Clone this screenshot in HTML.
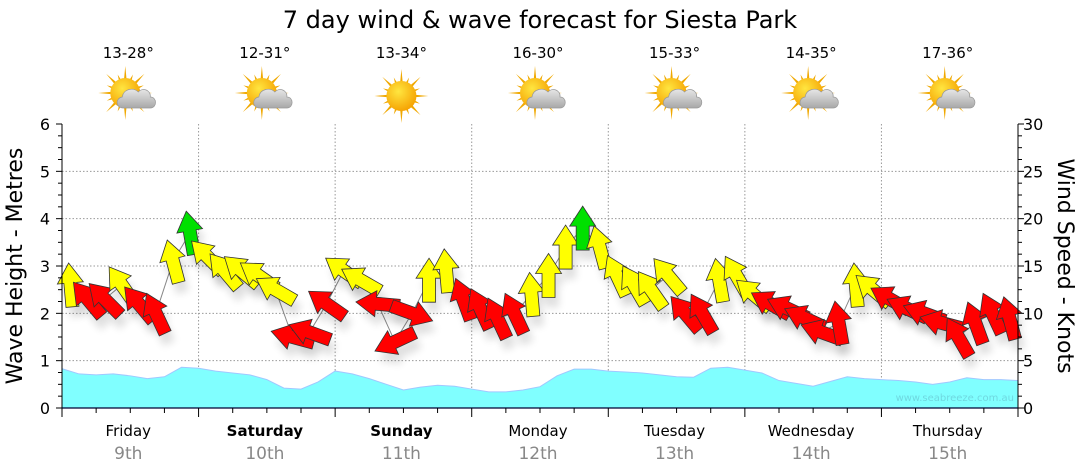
<!DOCTYPE html>
<html><head><meta charset="utf-8"><style>
html,body{margin:0;padding:0;background:#fff;width:1080px;height:475px;overflow:hidden}
svg{display:block;font-family:"DejaVu Sans","Liberation Sans",sans-serif}
</style></head><body>
<svg id="chart" width="1080" height="475" viewBox="0 0 1080 475">
<defs>
<radialGradient id="sunG" cx="0.4" cy="0.35" r="0.7"><stop offset="0" stop-color="#ffe640"/><stop offset="1" stop-color="#f5a000"/></radialGradient>
<linearGradient id="cloudG" x1="0" y1="0" x2="0" y2="1"><stop offset="0" stop-color="#e6e6e6"/><stop offset="1" stop-color="#a8a8a8"/></linearGradient>
<filter id="sh" x="-50%" y="-50%" width="200%" height="200%"><feGaussianBlur stdDeviation="4"/></filter>
</defs>
<text x="540" y="28" font-size="24" text-anchor="middle" fill="#000">7 day wind &amp; wave forecast for Siesta Park</text>
<g id="top"></g>
<g id="grid"></g>
<g id="wave"></g>
<g id="wind"></g>
<g id="axes"></g>
<text x="1014" y="401" font-size="10" text-anchor="end" fill="#6fd8e0">www.seabreeze.com.au</text>
<text transform="translate(22,266) rotate(-90)" font-size="22" text-anchor="middle">Wave Height - Metres</text>
<text transform="translate(1058,266) rotate(90)" font-size="22" text-anchor="middle">Wind Speed - Knots</text>
</svg>
<script>
const days=["Friday","Saturday","Sunday","Monday","Tuesday","Wednesday","Thursday"];
const dates=["9th","10th","11th","12th","13th","14th","15th"];
const boldDays=[false,true,true,false,false,false,false];
const temps=["13-28°","12-31°","13-34°","16-30°","15-33°","14-35°","17-36°"];
const cloudy=[true,true,false,true,true,true,true];
const waveTicks=[0,1,2,3,4,5,6];
const windTicks=[0,5,10,15,20,25,30];
// wave height every 3 hours, 0..168h
const waveHeights=[0.83,0.72,0.70,0.72,0.68,0.62,0.66,0.86,0.84,0.78,0.74,0.70,0.60,0.42,0.40,0.55,0.78,0.72,0.62,0.50,0.38,0.44,0.48,0.46,0.40,0.34,0.34,0.38,0.45,0.68,0.82,0.82,0.78,0.76,0.74,0.70,0.66,0.65,0.84,0.86,0.80,0.74,0.58,0.52,0.46,0.56,0.66,0.62,0.60,0.58,0.55,0.50,0.55,0.64,0.60,0.60,0.58];
// wind speed (knots) every 3 hours starting 1.5h
const windSpeeds=[13,11.5,11.5,13,11,10,15.5,18.5,16,14.5,14.5,14,12.5,7.5,8,11,14.5,13.5,11,7,10,13.5,14.5,11.5,10.5,9.5,10,12,14,17,19,17,14,13,12.5,14,10,10,13.5,14,12,11,10.5,9.5,8,9,13,12.5,11.5,10.5,10,9,7.5,9,10,9.5];
// direction arrow points (degrees clockwise from up)
const windDirs=[-5,-40,-45,-35,-40,-25,-15,-10,-45,-40,-50,-55,-60,-75,-70,-55,-55,-60,-85,-115,110,0,-5,-20,-25,-25,-25,-5,0,0,0,-15,-25,-30,-35,-40,-40,-30,-10,-30,-50,-60,-65,-65,-70,-10,-5,-50,-60,-65,-70,-75,-30,-20,-25,-15];
const X0=62,X1=1018,Y0=408,Y1=124,HOURS=168;
const xs=h=>X0+(X1-X0)*h/HOURS;
const ym=m=>Y0-(Y0-Y1)*m/6;
const yk=k=>Y0-(Y0-Y1)*k/30;
const NS="http://www.w3.org/2000/svg";
function mk(t,a,p){const e=document.createElementNS(NS,t);for(const k in a)e.setAttribute(k,a[k]);p.appendChild(e);return e;}
const g=id=>document.getElementById(id);
const dayW=(X1-X0)/7;
days.forEach((d,i)=>{
  const cx=X0+dayW*(i+0.5)-2;
  const t=mk('text',{x:cx,y:58,'font-size':15,'text-anchor':'middle'},g('top'));t.textContent=temps[i];
  
  
  const ic=mk('g',{transform:`translate(${cx},${cloudy[i]?93:96})`},g('top'));
  
  
  const sx=cloudy[i]?-3:0;
  for(let r=0;r<16;r++){const a=r*Math.PI/8;const L=r%2?20:27;
    mk('polygon',{points:`${sx+Math.cos(a-0.12)*12},${Math.sin(a-0.12)*12} ${sx+Math.cos(a)*L},${Math.sin(a)*L} ${sx+Math.cos(a+0.12)*12},${Math.sin(a+0.12)*12}`,fill:'#f0a800'},ic);}
  mk('circle',{cx:sx,cy:0,r:15,fill:'url(#sunG)'},ic);
  if(cloudy[i]){
    const c=mk('g',{transform:'translate(9,5)'},ic);
    mk('path',{d:'M-14,10 C-22,10 -22,0 -15,-1 C-14,-9 -4,-11 1,-6 C5,-11 14,-8 13,-1 C20,-1 20,10 13,10 Z',fill:'url(#cloudG)',stroke:'#999','stroke-width':0.7},c);
  }
});
for(let m=1;m<=5;m++)mk('line',{x1:X0,x2:X1,y1:ym(m),y2:ym(m),stroke:'#999','stroke-dasharray':'1.5,2','stroke-width':1},g('grid'));
for(let d=1;d<7;d++)mk('line',{x1:X0+dayW*d,x2:X0+dayW*d,y1:Y1,y2:Y0,stroke:'#999','stroke-dasharray':'1.5,2','stroke-width':1},g('grid'));
let pd=`M${xs(0)},${Y0}`;waveHeights.forEach((w,i)=>pd+=` L${xs(i*3)},${ym(w)}`);pd+=` L${xs((waveHeights.length-1)*3)},${Y0} Z`;
const wa=mk('path',{d:pd,fill:'#80ffff',stroke:'#a0c8ff','stroke-width':1},g('wave'));


const pts=windSpeeds.map((k,i)=>[xs(1.5+i*3),yk(k)]);
mk('polyline',{points:pts.map(p=>p.join(',')).join(' '),fill:'none',stroke:'#888','stroke-width':1},g('wind'));
const arrowPath='M0,-22 L13,-2 L6.5,-2 L6.5,22 L-6.5,22 L-6.5,-2 L-13,-2 Z';
pts.forEach((p,i)=>mk('path',{d:arrowPath,transform:`translate(${p[0]+4},${p[1]+10}) rotate(${windDirs[i]})`,fill:'#000',opacity:0.12,filter:'url(#sh)'},g('wind')));
pts.forEach((p,i)=>{
  const k=windSpeeds[i];const col=k>=18?'#00e000':(k>=12?'#ffff00':'#ff0000');
  const a=mk('path',{d:arrowPath,transform:`translate(${p[0]},${p[1]}) rotate(${windDirs[i]})`,fill:col,stroke:'#333','stroke-width':0.8},g('wind'));
  
  
});
const ax=g('axes');
mk('line',{x1:X0,x2:X0,y1:Y1,y2:Y0,stroke:'#000'},ax);
mk('line',{x1:X1,x2:X1,y1:Y1,y2:Y0,stroke:'#000'},ax);
mk('line',{x1:X0,x2:X1,y1:Y0,y2:Y0,stroke:'#003',"stroke-width":1.2},ax);
for(let m=0;m<=24;m++){const y=ym(m/4);const L=m%4?4:6;
  mk('line',{x1:X0-L,x2:X0,y1:y,y2:y,stroke:'#000'},ax);mk('line',{x1:X1,x2:X1+L,y1:y,y2:y,stroke:'#000'},ax);}
waveTicks.forEach(m=>{const t=mk('text',{x:50,y:ym(m)+6,'font-size':16,'text-anchor':'end'},ax);t.textContent=m;
  
  });
windTicks.forEach(k=>{const t=mk('text',{x:1023,y:yk(k)+6,'font-size':16},ax);t.textContent=k;
  
  });
for(let q=0;q<=28;q++){const x=X0+dayW*q/4;mk('line',{x1:x,x2:x,y1:Y0,y2:Y0+(q%4?5:9),stroke:'#000'},ax);}
days.forEach((d,i)=>{const cx=X0+dayW*(i+0.5)-2;
  const t=mk('text',{x:cx,y:436,'font-size':15,'text-anchor':'middle','font-weight':boldDays[i]?'bold':'normal'},ax);t.textContent=d;
  
  
  const t2=mk('text',{x:cx,y:459,'font-size':17,'text-anchor':'middle',fill:'#888'},ax);t2.textContent=dates[i];
  
  });
</script>
</body></html>
